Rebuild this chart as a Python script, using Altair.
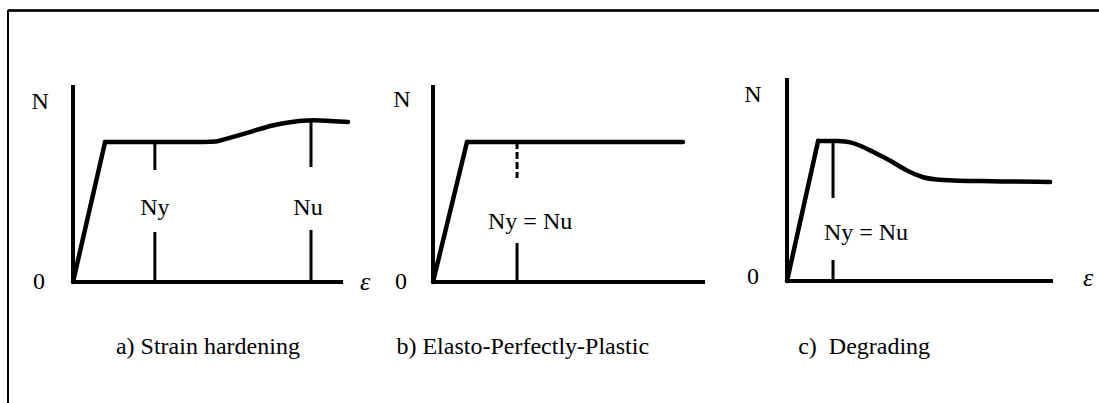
import altair as alt
import pandas as pd

W, H = 1099, 403
FONT = "'Liberation Serif', 'Times New Roman', Times, 'DejaVu Serif', serif"

# Sheet layout: pixel origin of each sketch's axes and the pixel length of
# one unit of strain (ex) and of axial force (ny).
PANELS = {
    "a": dict(x0=73, y0=282, ex=272, ny=197),
    "b": dict(x0=433, y0=282, ex=272, ny=197),
    "c": dict(x0=787, y0=281, ex=266, ny=201),
}
CAPTION_POS = {"a": (0.496, -0.33), "b": (0.33, -0.33), "c": (0.29, -0.33)}
AXIS_END = {"a": (0.993, 1.0), "b": (1.0, 1.0), "c": (1.0, 1.01)}

# ---- N–ε curves, in axis units (1 = full axis length) ----
# a) strain hardening
a_elastic_eps = [0.0, 0.118]
a_elastic_n = [0.0, 0.711]
a_plastic_eps = [0.118, 0.522, 0.522, 0.588, 0.662, 0.735, 0.798, 0.860, 0.930, 1.011]
a_plastic_n = [0.711, 0.711, 0.711, 0.736, 0.766, 0.797, 0.812, 0.822, 0.820, 0.812]
# b) elasto-perfectly-plastic
b_elastic_eps = [0.0, 0.125]
b_elastic_n = [0.0, 0.711]
b_plastic_eps = [0.125, 0.919]
b_plastic_n = [0.711, 0.711]
# c) degrading
c_elastic_eps = [0.0, 0.117]
c_elastic_n = [0.0, 0.697]
c_plastic_eps = [0.117, 0.117, 0.200, 0.237, 0.280, 0.323, 0.387, 0.451,
                 0.511, 0.575, 0.700, 0.989]
c_plastic_n = [0.697, 0.697, 0.697, 0.692, 0.672, 0.642, 0.602, 0.547,
               0.512, 0.502, 0.497, 0.493]

# ---- Ny / Nu indicators ----
mark_panel = ["a", "a", "b", "c"]
mark_text = ["Ny", "Nu", "Ny = Nu", "Ny = Nu"]
mark_eps = [0.301, 0.875, 0.309, 0.173]
upper_top = [0.711, 0.822, 0.711, 0.697]
upper_bot = [0.569, 0.584, 0.528, 0.413]
upper_style = ["solid", "solid", "dashed", "solid"]
lower_top = [0.254, 0.264, 0.198, 0.104]
label_eps = [0.301, 0.864, 0.357, 0.297]
label_n = [0.376, 0.376, 0.305, 0.239]

# ---- axis labels ----
axis_lbl_panel = ["a", "a", "b", "b", "c", "c"]
axis_lbl_text = ["N", "0", "N", "0", "N", "0"]
axis_lbl_eps = [-0.121, -0.125, -0.114, -0.118, -0.128, -0.128]
axis_lbl_n = [0.914, 0.0, 0.924, 0.0, 0.925, 0.02]
strain_lbl_panel = ["a", "c"]
strain_lbl_eps = [1.074, 1.132]
strain_lbl_n = [0.0, 0.015]

captions = {
    "a": "a) Strain hardening",
    "b": "b) Elasto-Perfectly-Plastic",
    "c": "c)\u00a0 Degrading",
}


def px(panel, eps, n):
    p = PANELS[panel]
    return p["x0"] + eps * p["ex"], p["y0"] - n * p["ny"]


def curve_rows(panel, eps_list, n_list):
    rows = []
    for i, (e, n) in enumerate(zip(eps_list, n_list)):
        x, y = px(panel, e, n)
        rows.append(dict(panel=panel, order=i, x=x, y=y))
    return rows


elastic = pd.DataFrame(
    curve_rows("a", a_elastic_eps, a_elastic_n)
    + curve_rows("b", b_elastic_eps, b_elastic_n)
    + curve_rows("c", c_elastic_eps, c_elastic_n)
)
plastic = pd.DataFrame(
    curve_rows("a", a_plastic_eps, a_plastic_n)
    + curve_rows("b", b_plastic_eps, b_plastic_n)
    + curve_rows("c", c_plastic_eps, c_plastic_n)
)

# axes of each sketch
axis_rows = []
for p, (e_end, n_top) in AXIS_END.items():
    x0, y0 = px(p, 0, 0)
    xe, _ = px(p, e_end, 0)
    _, yt = px(p, 0, n_top)
    axis_rows.append(dict(x=x0 - 1, x2=xe, y=y0, y2=y0))
    axis_rows.append(dict(x=x0, x2=x0, y=y0 + 1, y2=yt))
axes_df = pd.DataFrame(axis_rows)

seg_rows, lbl_rows = [], []
for p, t, e, ut, ub, st, lt, le, ln in zip(
    mark_panel, mark_text, mark_eps, upper_top, upper_bot, upper_style,
    lower_top, label_eps, label_n
):
    x, y1 = px(p, e, ut)
    _, y2 = px(p, e, ub)
    seg_rows.append(dict(x=x, y=y1, y2=y2, style=st))
    _, y3 = px(p, e, lt)
    _, y4 = px(p, e, 0)
    seg_rows.append(dict(x=x, y=y3, y2=y4, style="solid"))
    lx, ly = px(p, le, ln)
    lbl_rows.append(dict(x=lx, y=ly, text=t))
for p, t, e, n in zip(axis_lbl_panel, axis_lbl_text, axis_lbl_eps, axis_lbl_n):
    lx, ly = px(p, e, n)
    lbl_rows.append(dict(x=lx, y=ly, text=t))
seg_df = pd.DataFrame(seg_rows)
lbl_df = pd.DataFrame(lbl_rows)

strain_rows = []
for p, e, n in zip(strain_lbl_panel, strain_lbl_eps, strain_lbl_n):
    lx, ly = px(p, e, n)
    strain_rows.append(dict(x=lx, y=ly, text="ε"))
strain_df = pd.DataFrame(strain_rows)

cap_rows = []
for p, t in captions.items():
    cx, cy = px(p, *CAPTION_POS[p])
    cap_rows.append(dict(x=cx, y=cy, text=t))
cap_df = pd.DataFrame(cap_rows)

xs = alt.Scale(domain=[0, W], nice=False, zero=False)
ys = alt.Scale(domain=[0, H], nice=False, zero=False, reverse=True)


def X(f="x"):
    return alt.X(f"{f}:Q", scale=xs, axis=None)


def Y(f="y"):
    return alt.Y(f"{f}:Q", scale=ys, axis=None)


axes_layer = alt.Chart(axes_df).mark_rule(color="black", strokeWidth=4).encode(
    x=X(), x2="x2:Q", y=Y(), y2="y2:Q"
)
elastic_layer = alt.Chart(elastic).mark_line(
    color="black", strokeWidth=4.5, strokeCap="round", strokeJoin="round"
).encode(x=X(), y=Y(), detail="panel:N", order="order:Q")
plastic_layer = alt.Chart(plastic).mark_line(
    color="black", strokeWidth=4.5, strokeCap="round", strokeJoin="round",
    interpolate="basis",
).encode(x=X(), y=Y(), detail="panel:N", order="order:Q")
seg_layer = alt.Chart(seg_df).mark_rule(color="black", strokeWidth=3).encode(
    x=X(), y=Y(), y2="y2:Q",
    strokeDash=alt.StrokeDash(
        "style:N",
        scale=alt.Scale(domain=["solid", "dashed"], range=[[1, 0], [7, 3]]),
        legend=None,
    ),
)
lbl_layer = alt.Chart(lbl_df).mark_text(
    font=FONT, fontSize=24, color="black", align="center", baseline="middle"
).encode(x=X(), y=Y(), text="text:N")
strain_layer = alt.Chart(strain_df).mark_text(
    font=FONT, fontSize=26, fontStyle="italic", color="black",
    align="center", baseline="middle",
).encode(x=X(), y=Y(), text="text:N")
cap_layer = alt.Chart(cap_df).mark_text(
    font=FONT, fontSize=24, color="black", align="center", baseline="middle"
).encode(x=X(), y=Y(), text="text:N")

# frame around the figure
frame_top = alt.Chart(axes_df).mark_rule(color="black", strokeWidth=1.6).encode(
    x=alt.value(8), x2=alt.value(W), y=alt.value(10.5)
)
frame_left = alt.Chart(axes_df).mark_rule(color="black", strokeWidth=1.6).encode(
    x=alt.value(8.2), y=alt.value(10), y2=alt.value(H)
)

chart = (
    alt.layer(
        frame_top, frame_left, axes_layer, elastic_layer, plastic_layer,
        seg_layer, lbl_layer, strain_layer, cap_layer,
    )
    .properties(width=W, height=H, background="white", padding=0,
                autosize=alt.AutoSizeParams(type="none"))
    .configure_view(stroke=None)
)

chart.save("out.html", embed_options={"renderer": "svg", "actions": False})
